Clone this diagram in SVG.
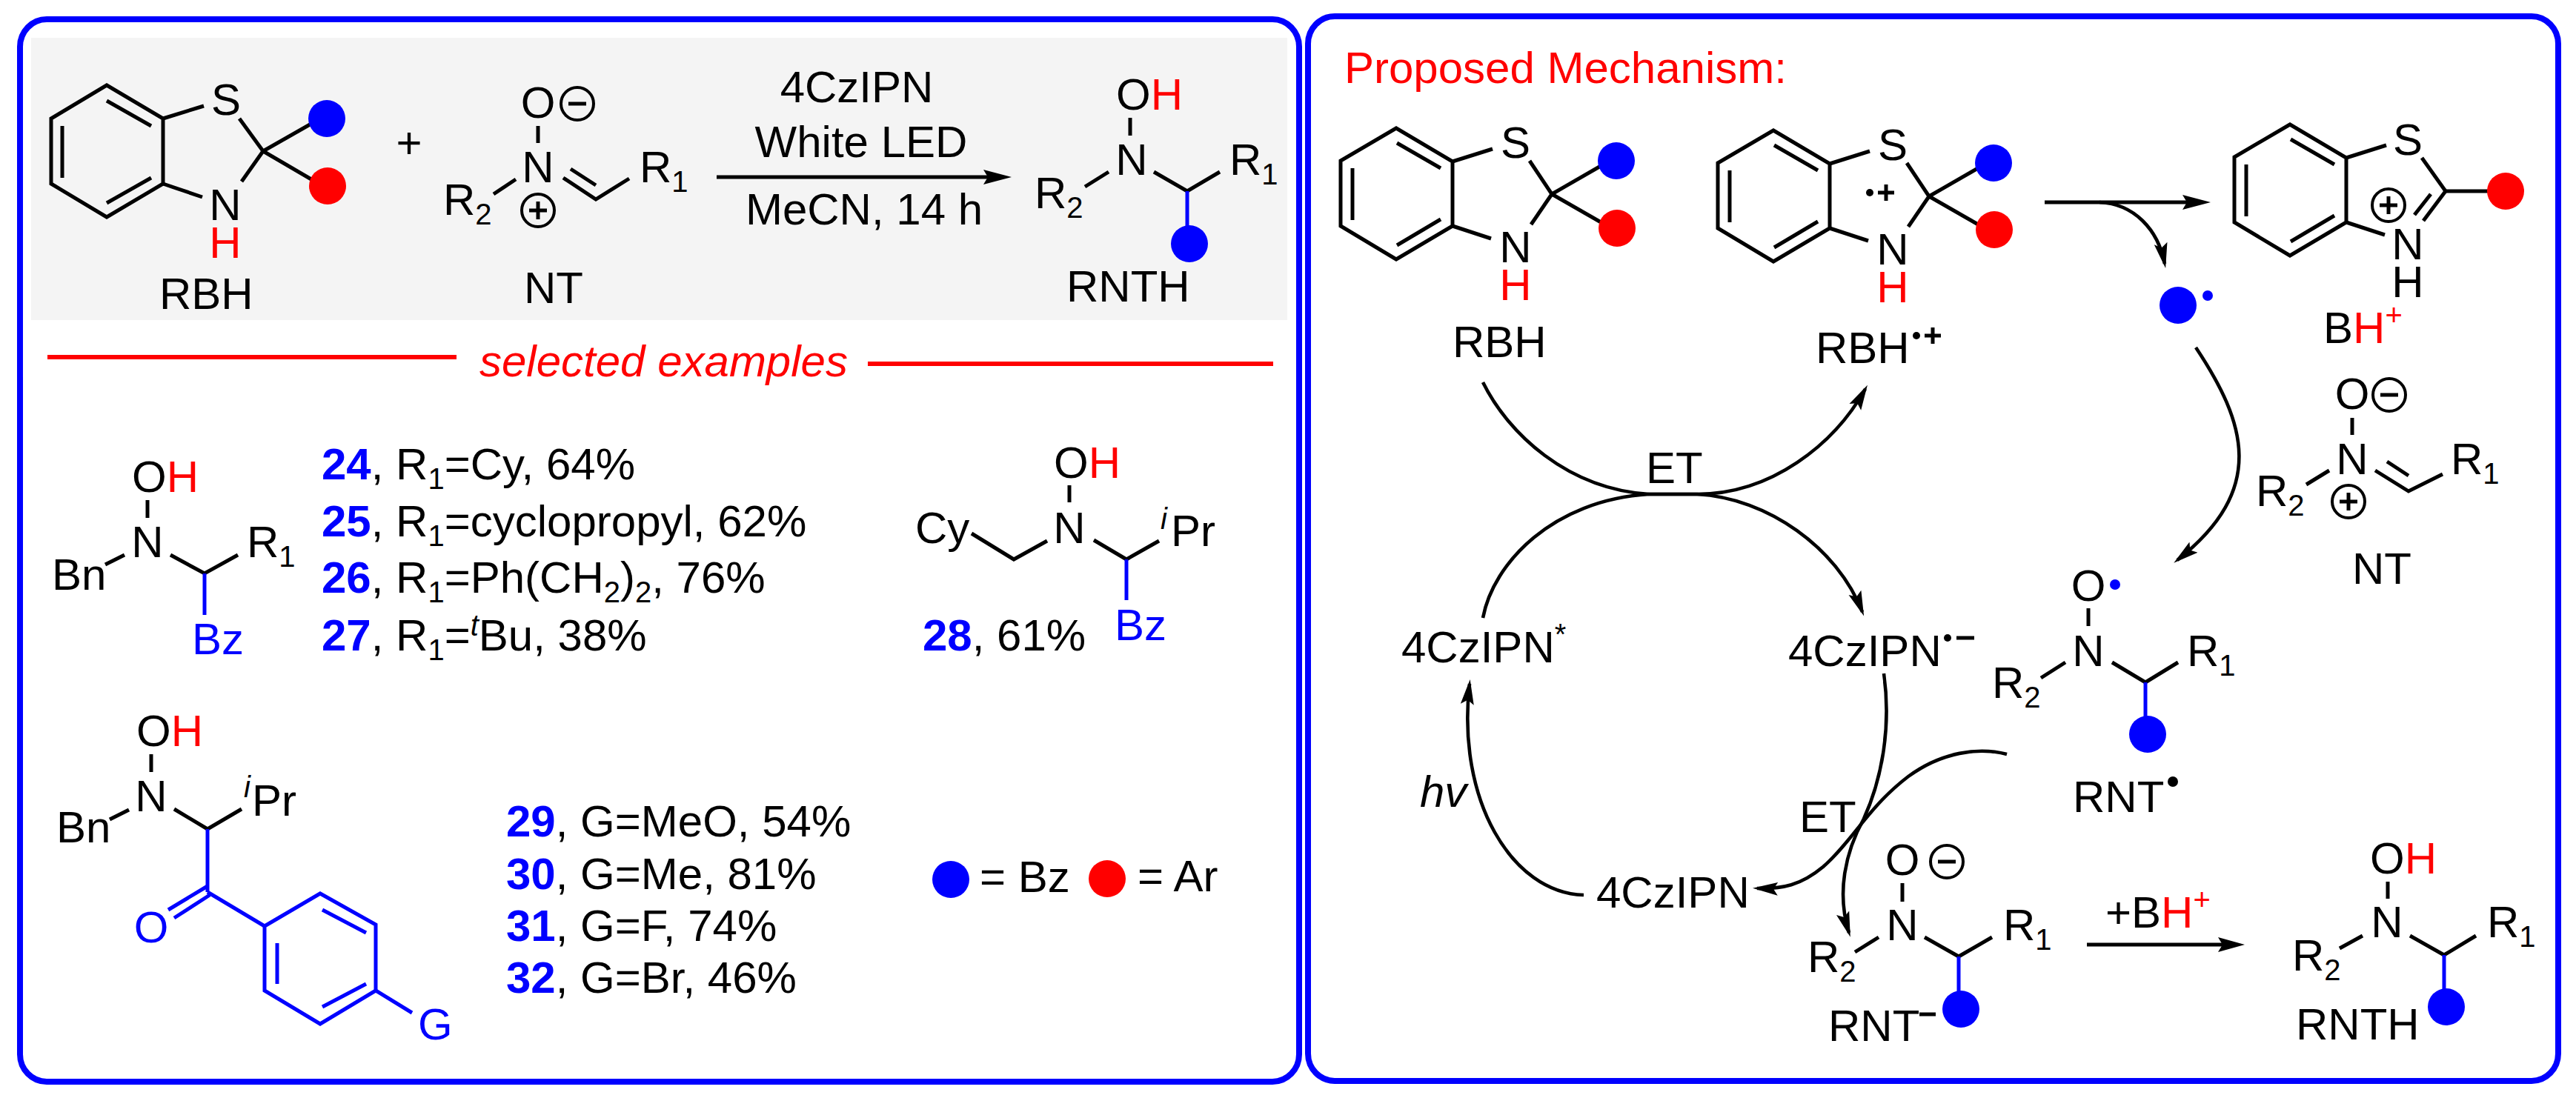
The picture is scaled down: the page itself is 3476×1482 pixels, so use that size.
<svg xmlns="http://www.w3.org/2000/svg" width="3476" height="1482" viewBox="0 0 3476 1482">
<style>
text{font-family:"Liberation Sans",Arial,sans-serif;font-size:60px;fill:#000}
.m{text-anchor:middle}
.s{font-size:40px}
.r,.r tspan{fill:#f00}
.bl{fill:#00f}
.b{font-weight:700;fill:#00f}
.i{font-style:italic}
.panel{fill:#fff;stroke:#00f;stroke-width:8}
line,path,polyline,polygon{fill:none;stroke:#000;stroke-width:5;stroke-linejoin:miter}
.bb{stroke:#00f}
.rl{stroke:#f00;stroke-width:6}
.ch{fill:none;stroke:#000;stroke-width:4}
.cv{stroke-width:4.6}
.ah{fill:#000;stroke:none}
.dB{fill:#00f}.dR{fill:#f00}.dK{fill:#000}
</style>
<defs>
<marker id="barb" markerUnits="userSpaceOnUse" markerWidth="36" markerHeight="22" refX="28" refY="11" orient="auto"><path class="ah" d="M34 11L0 2L6 11L0 20Z"/></marker>
<g id="minus"><circle class="ch" r="22"/><line x1="-12" x2="12" y1="0" y2="0"/></g>
<g id="plus"><circle class="ch" r="22"/><line x1="-12" x2="12" y1="0" y2="0"/><line x1="0" x2="0" y1="-12" y2="12"/></g>
<g id="bt"><polygon points="1884,173 1960,218 1960,305 1884,350 1809,305 1809,217"/><line x1="1885" y1="193" x2="1944" y2="227"/><line x1="1825" y1="227" x2="1825" y2="297"/><line x1="1885" y1="331" x2="1944" y2="296"/><line x1="1960" y1="218" x2="2014" y2="201"/><line x1="1960" y1="305" x2="2012" y2="322"/></g>
</defs>
<rect id="panel-left" class="panel" x="27" y="26" width="1726" height="1434" rx="36" ry="37"/>
<rect id="panel-right" class="panel" x="1765" y="22" width="1687" height="1437" rx="36" ry="37"/>
<rect id="reaction-bg" x="42" y="51" width="1695" height="381" fill="#f4f4f4"/>

<g id="rbh">
<polygon points="144,115 220,160 220,248 144,293 69,248 69,160"/>
<line x1="144" y1="136" x2="204" y2="170"/><line x1="84" y1="170" x2="84" y2="240"/><line x1="144" y1="274" x2="204" y2="240"/>
<line x1="220" y1="160" x2="275" y2="143"/><line x1="220" y1="248" x2="273" y2="266"/>
<line x1="323" y1="160" x2="355" y2="204"/><line x1="355" y1="204" x2="326" y2="245"/>
<line x1="355" y1="204" x2="420" y2="167"/><line x1="355" y1="204" x2="420" y2="242"/>
<circle class="dB" cx="441" cy="160" r="25"/><circle class="dR" cx="442" cy="251" r="25"/>
<text class="m" x="305" y="155">S</text><text class="m" x="304" y="297">N</text><text class="m r" x="304" y="348">H</text>
<text x="215" y="417">RBH</text>
</g>
<g id="plus-sign"><text class="m" x="552" y="213">+</text></g>
<g id="nt">
<text class="m" x="726" y="159">O</text><use href="#minus" x="779" y="140"/>
<line x1="726" y1="170" x2="726" y2="193"/>
<text class="m" x="726" y="246">N</text><use href="#plus" x="726" y="284"/>
<line x1="666" y1="262" x2="696" y2="242"/>
<polyline points="760,240 804,269 849,241"/><line x1="770" y1="228" x2="804" y2="250"/>
<text x="863" y="246">R<tspan class="s" dy="13">1</tspan></text>
<text x="598" y="290">R<tspan class="s" dy="13">2</tspan></text>
<text x="707" y="409">NT</text>
</g>
<g id="reaction-conditions">
<text class="m" x="1156" y="138">4CzIPN</text><text class="m" x="1162" y="212">White LED</text><text class="m" x="1166" y="303">MeCN, 14 h</text>
</g>
<g id="connectors-top">
<line x1="967" y1="239" x2="1335" y2="239"/><path class="ah" d="M1365 239L1327 229L1333 239L1327 249Z"/>
</g>
<g id="rnth">
<text x="1506" y="148">O<tspan class="r">H</tspan></text><line x1="1525" y1="159" x2="1525" y2="183"/>
<text class="m" x="1527" y="236">N</text>
<line x1="1464" y1="252" x2="1496" y2="232"/><polyline points="1557,232 1602,258 1646,232"/>
<line class="bb" x1="1602" y1="258" x2="1602" y2="305"/><circle class="dB" cx="1605" cy="329" r="25"/>
<text x="1659" y="236">R<tspan class="s" dy="13">1</tspan></text><text x="1396" y="281">R<tspan class="s" dy="13">2</tspan></text>
<text x="1439" y="407">RNTH</text>
</g>
<g id="selected-examples">
<line class="rl" x1="64" y1="482" x2="616" y2="482"/><line class="rl" x1="1171" y1="491" x2="1718" y2="491"/>
<text class="i r" x="647" y="508">selected examples</text>
</g>

<g id="cmpd-24-27">
<text x="178" y="664">O<tspan class="r">H</tspan></text><line x1="199" y1="675" x2="199" y2="699"/>
<text class="m" x="199" y="752">N</text><line x1="142" y1="762" x2="168" y2="749"/>
<polyline points="230,749 276,774 321,749"/><line class="bb" x1="276" y1="774" x2="276" y2="830"/>
<text x="333" y="752">R<tspan class="s" dy="13">1</tspan></text><text x="70" y="796">Bn</text><text class="bl" x="259" y="883">Bz</text>
<text x="434" y="647"><tspan class="b">24</tspan>, R<tspan class="s" dy="13">1</tspan><tspan dy="-13">=Cy, 64%</tspan></text>
<text x="434" y="724"><tspan class="b">25</tspan>, R<tspan class="s" dy="13">1</tspan><tspan dy="-13">=cyclopropyl, 62%</tspan></text>
<text x="434" y="800"><tspan class="b">26</tspan>, R<tspan class="s" dy="13">1</tspan><tspan dy="-13">=Ph(CH</tspan><tspan class="s" dy="13">2</tspan><tspan dy="-13">)</tspan><tspan class="s" dy="13">2</tspan><tspan dy="-13">, 76%</tspan></text>
<text x="434" y="878"><tspan class="b">27</tspan>, R<tspan class="s" dy="13">1</tspan><tspan dy="-13">=</tspan><tspan class="s i" dy="-20">t</tspan><tspan dy="20">Bu, 38%</tspan></text>
</g>
<g id="cmpd-28">
<text x="1422" y="645">O<tspan class="r">H</tspan></text><line x1="1443" y1="655" x2="1443" y2="678"/>
<text class="m" x="1443" y="733">N</text><text x="1235" y="733">Cy</text>
<polyline points="1311,720 1368,755 1413,730"/><polyline points="1476,729 1520,755 1564,730"/>
<line class="bb" x1="1520" y1="755" x2="1520" y2="810"/>
<text class="s i" x="1566" y="714">i</text><text x="1580" y="737">Pr</text><text class="bl" x="1504" y="864">Bz</text>
<text x="1245" y="878"><tspan class="b">28</tspan>, 61%</text>
</g>
<g id="cmpd-29-32">
<text x="184" y="1007">O<tspan class="r">H</tspan></text><line x1="204" y1="1018" x2="204" y2="1042"/>
<text class="m" x="204" y="1095">N</text><text x="76" y="1137">Bn</text><line x1="148" y1="1106" x2="174" y2="1093"/>
<polyline points="235,1092 280,1119 326,1092"/><text class="s i" x="329" y="1076">i</text><text x="340" y="1101">Pr</text>
<line class="bb" x1="280" y1="1119" x2="280" y2="1204"/>
<line class="bb" x1="280" y1="1196" x2="227" y2="1228"/><line class="bb" x1="283" y1="1208" x2="235" y2="1239"/>
<text class="m bl" x="204" y="1272">O</text>
<line class="bb" x1="280" y1="1204" x2="357" y2="1250"/>
<polygon class="bb" points="357,1250 432,1206 507,1248 507,1337 432,1382 357,1337"/>
<line class="bb" x1="435" y1="1228" x2="494" y2="1259"/><line class="bb" x1="494" y1="1328" x2="435" y2="1359"/><line class="bb" x1="374" y1="1273" x2="374" y2="1328"/>
<line class="bb" x1="507" y1="1337" x2="556" y2="1367"/><text class="bl" x="564" y="1403">G</text>
<text x="683" y="1129"><tspan class="b">29</tspan>, G=MeO, 54%</text>
<text x="683" y="1200"><tspan class="b">30</tspan>, G=Me, 81%</text>
<text x="683" y="1270"><tspan class="b">31</tspan>, G=F, 74%</text>
<text x="683" y="1340"><tspan class="b">32</tspan>, G=Br, 46%</text>
</g>
<g id="legend">
<circle class="dB" cx="1283" cy="1187" r="25"/><text x="1322" y="1204">= Bz</text>
<circle class="dR" cx="1494" cy="1186" r="25"/><text x="1535" y="1203">= Ar</text>
</g>

<g id="title-mechanism"><text class="r" x="1814" y="112">Proposed Mechanism:</text></g>
<g id="m-rbh">
<use href="#bt"/>
<line x1="2064" y1="217" x2="2094" y2="262"/><line x1="2094" y1="262" x2="2066" y2="303"/>
<line x1="2094" y1="262" x2="2160" y2="224"/><line x1="2094" y1="262" x2="2162" y2="301"/>
<circle class="dB" cx="2181" cy="217" r="25"/><circle class="dR" cx="2182" cy="308" r="25"/>
<text class="m" x="2045" y="213">S</text><text class="m" x="2045" y="354">N</text><text class="m r" x="2045" y="405">H</text>
<text x="1960" y="482">RBH</text>
</g>
<g id="m-rbh-radical">
<use href="#bt" x="509" y="3"/>
<line x1="2573" y1="220" x2="2603" y2="265"/><line x1="2603" y1="265" x2="2575" y2="306"/>
<line x1="2603" y1="265" x2="2669" y2="227"/><line x1="2603" y1="265" x2="2671" y2="304"/>
<circle class="dB" cx="2690" cy="220" r="25"/><circle class="dR" cx="2691" cy="310" r="25"/>
<text class="m" x="2554" y="216">S</text><text class="m" x="2554" y="357">N</text><text class="m r" x="2554" y="408">H</text>
<circle class="dK" cx="2523" cy="260" r="5"/><line x1="2534" y1="260" x2="2556" y2="260"/><line x1="2545" y1="249" x2="2545" y2="271"/>
<text x="2450" y="490">RBH</text><circle class="dK" cx="2586" cy="453" r="5"/><line x1="2597" y1="453" x2="2619" y2="453"/><line x1="2608" y1="442" x2="2608" y2="464"/>
</g>
<g id="m-bh">
<use href="#bt" x="1206" y="-5"/>
<line x1="3268" y1="213" x2="3300" y2="258"/><line x1="3300" y1="258" x2="3358" y2="258"/>
<line x1="3300" y1="258" x2="3270" y2="298"/><line x1="3280" y1="262" x2="3258" y2="290"/>
<circle class="dR" cx="3381" cy="258" r="25"/>
<text class="m" x="3249" y="209">S</text><text class="m" x="3249" y="350">N</text><text class="m" x="3249" y="401">H</text>
<use href="#plus" x="3223" y="277"/>
<text x="3135" y="463">B<tspan class="r">H</tspan><tspan class="r s" dy="-24">+</tspan></text>
</g>
<g id="m-radical"><circle class="dB" cx="2939" cy="412" r="25"/><circle class="dB" cx="2979" cy="399" r="7"/></g>
<g id="m-nt">
<text class="m" x="3174" y="552">O</text><use href="#minus" x="3224" y="533"/><line x1="3174" y1="564" x2="3174" y2="587"/>
<text class="m" x="3174" y="640">N</text><use href="#plus" x="3169" y="677"/>
<line x1="3112" y1="654" x2="3143" y2="635"/><polyline points="3205,635 3250,663 3296,640"/><line x1="3221" y1="623" x2="3250" y2="642"/>
<text x="3307" y="640">R<tspan class="s" dy="13">1</tspan></text><text x="3044" y="683">R<tspan class="s" dy="13">2</tspan></text>
<text x="3174" y="788">NT</text>
</g>
<g id="m-rnt-radical">
<text class="m" x="2818" y="811">O</text><circle class="dB" cx="2854" cy="789" r="7"/><line x1="2818" y1="821" x2="2818" y2="845"/>
<text class="m" x="2818" y="899">N</text><line x1="2754" y1="915" x2="2787" y2="894"/><polyline points="2850,894 2895,921 2939,894"/>
<line class="bb" x1="2895" y1="921" x2="2895" y2="967"/><circle class="dB" cx="2898" cy="991" r="25"/>
<text x="2951" y="899">R<tspan class="s" dy="13">1</tspan></text><text x="2688" y="942">R<tspan class="s" dy="13">2</tspan></text>
<text x="2797" y="1096">RNT</text><circle class="dK" cx="2932" cy="1055" r="7"/>
</g>
<g id="m-rnt-anion">
<text class="m" x="2567" y="1181">O</text><use href="#minus" x="2627" y="1163"/><line x1="2567" y1="1192" x2="2567" y2="1217"/>
<text class="m" x="2567" y="1269">N</text><line x1="2503" y1="1285" x2="2535" y2="1265"/><polyline points="2597,1265 2643,1291 2688,1265"/>
<line class="bb" x1="2643" y1="1291" x2="2643" y2="1339"/><circle class="dB" cx="2646" cy="1362" r="25"/>
<text x="2703" y="1269">R<tspan class="s" dy="13">1</tspan></text><text x="2439" y="1312">R<tspan class="s" dy="13">2</tspan></text>
<text x="2467" y="1405">RNT</text><line x1="2590" y1="1369" x2="2612" y2="1369"/>
</g>
<g id="m-rnth">
<text x="3198" y="1179">O<tspan class="r">H</tspan></text><line x1="3222" y1="1190" x2="3222" y2="1213"/>
<text class="m" x="3221" y="1265">N</text><line x1="3157" y1="1280" x2="3188" y2="1263"/><polyline points="3252,1263 3298,1289 3341,1263"/>
<line class="bb" x1="3298" y1="1289" x2="3298" y2="1336"/><circle class="dB" cx="3301" cy="1359" r="25"/>
<text x="3356" y="1265">R<tspan class="s" dy="13">1</tspan></text><text x="3093" y="1310">R<tspan class="s" dy="13">2</tspan></text>
<text x="3098" y="1403">RNTH</text>
</g>
<g id="m-cat-star"><text x="1891" y="894">4CzIPN<tspan class="s" dy="-24">*</tspan></text></g>
<g id="m-cat-rad"><text x="2413" y="899">4CzIPN</text><circle class="dK" cx="2628" cy="861" r="5"/><line x1="2640" y1="861" x2="2664" y2="861"/></g>
<g id="m-cat"><text x="2154" y="1225">4CzIPN</text></g>
<g id="m-labels">
<text x="2221" y="652">ET</text><text x="2428" y="1123">ET</text><text class="i" x="1916" y="1089">hv</text>
<text x="2841" y="1252">+B<tspan class="r">H</tspan><tspan class="r s" dy="-24">+</tspan></text>
</g>
<g id="connectors">
<line x1="2759" y1="273" x2="2955" y2="273"/><path class="ah" d="M2983 273L2945 263L2951 273L2945 283Z"/>
<path class="cv" marker-end="url(#barb)" d="M2833 273C2880 275 2912 310 2921 356"/>
<path class="cv" marker-end="url(#barb)" d="M2963 469C3030 570 3060 660 2938 756"/>
<path class="cv" marker-end="url(#barb)" d="M2001 516C2035 585 2115 660 2225 667L2290 667C2390 667 2475 600 2517 525"/>
<path class="cv" marker-end="url(#barb)" d="M2001 834C2015 760 2095 675 2225 667L2290 667C2385 672 2480 740 2513 826"/>
<path class="cv" marker-end="url(#barb)" d="M2137 1208C2040 1205 1965 1080 1983 923"/>
<path class="cv" marker-end="url(#barb)" d="M2542 909C2552 980 2540 1050 2515 1105C2490 1150 2478 1205 2495 1259"/>
<path class="cv" marker-end="url(#barb)" d="M2708 1018C2670 1008 2620 1015 2575 1048C2520 1090 2500 1135 2460 1170C2430 1195 2405 1200 2371 1199"/>
<line x1="2816" y1="1275" x2="3005" y2="1275"/><path class="ah" d="M3029 1275L2993 1265L2999 1275L2993 1285Z"/>
</g>
</svg>
